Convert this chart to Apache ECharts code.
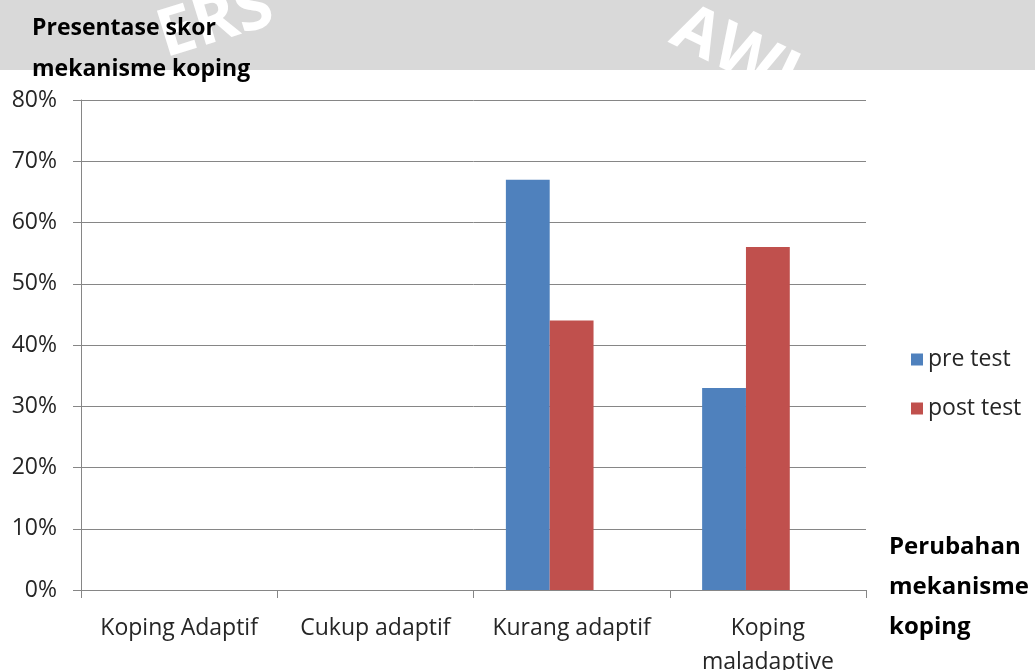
<!DOCTYPE html>
<html>
<head>
<meta charset="utf-8">
<script src="https://cdn.jsdelivr.net/npm/echarts@6/dist/echarts.min.js"></script>
<style>html,body{margin:0;padding:0;background:#fff}#c{width:1035px;height:670px}</style>
</head>
<body>
<div id="c"></div>
<script>
const categories = ['Koping Adaptif', 'Cukup adaptif', 'Kurang adaptif', 'Koping\nmaladaptive'];
const preTest = [0, 0, 67, 33];
const postTest = [0, 0, 44, 56];
const emptySeries = [null, null, null, null];
const seriesNames = ['pre test', 'post test'];
const yTitle = 'Presentase skor\nmekanisme koping';
const xTitle = 'Perubahan\nmekanisme\nkoping';

const FONT = '"Open Sans", "Noto Sans", sans-serif';
const chart = echarts.init(document.getElementById('c'));
chart.setOption({
  animation: false,
  backgroundColor: '#fff',
  textStyle: { fontFamily: FONT },
  graphic: [
    { type: 'rect', z: -10, shape: { x: 0, y: 0, width: 1035, height: 70 }, style: { fill: '#d9d9d9' }, silent: true },
    { type: 'text', z: -9, x: 150, y: 8, rotation: 0.3, style: { text: 'ERS', fill: '#ffffff', font: 'bold 66px ' + FONT }, silent: true },
    { type: 'text', z: -9, x: 690, y: -5, rotation: -0.45, style: { text: 'AWI', fill: '#ffffff', font: 'bold 66px ' + FONT }, silent: true },
    { type: 'text', z: 10, left: 32, top: 8, style: { text: yTitle, fill: '#000', font: 'bold 23px ' + FONT, lineHeight: 41 } },
    { type: 'text', z: 10, left: 889, top: 527, style: { text: xTitle, fill: '#000', font: 'bold 24px ' + FONT, lineHeight: 40 } }
  ],
  legend: {
    orient: 'vertical', left: 906, top: 343, itemWidth: 12, itemHeight: 12, itemGap: 26,
    icon: 'rect',
    textStyle: { fontSize: 23, color: '#262626', fontFamily: FONT },
    data: seriesNames
  },
  grid: { left: 81, right: 169, top: 100, bottom: 80, containLabel: false, outerBoundsMode: 'none' },
  xAxis: {
    type: 'category', data: categories,
    axisLine: { lineStyle: { color: '#868686', width: 1 } },
    axisTick: { show: true, length: 8, lineStyle: { color: '#868686' } },
    axisLabel: { fontSize: 23, color: '#262626', margin: 21, lineHeight: 34, interval: 0, fontFamily: FONT }
  },
  yAxis: {
    type: 'value', min: 0, max: 80, interval: 10,
    axisLine: { show: true, lineStyle: { color: '#868686' } },
    axisTick: { show: true, inside: false, length: 8, lineStyle: { color: '#868686' } },
    splitLine: { lineStyle: { color: '#868686', width: 1 } },
    axisLabel: { formatter: '{value}%', fontSize: 23, color: '#262626', margin: 24, fontFamily: FONT }
  },
  series: [
    { name: seriesNames[0], type: 'bar', data: preTest, barGap: '0%', barCategoryGap: '33%', itemStyle: { color: '#4f81bd' } },
    { name: seriesNames[1], type: 'bar', data: postTest, barGap: '0%', barCategoryGap: '33%', itemStyle: { color: '#c0504d' } },
    { name: 'empty', type: 'bar', data: emptySeries, barGap: '0%', barCategoryGap: '33%', itemStyle: { color: 'transparent' } }
  ]
});
</script>
</body>
</html>
